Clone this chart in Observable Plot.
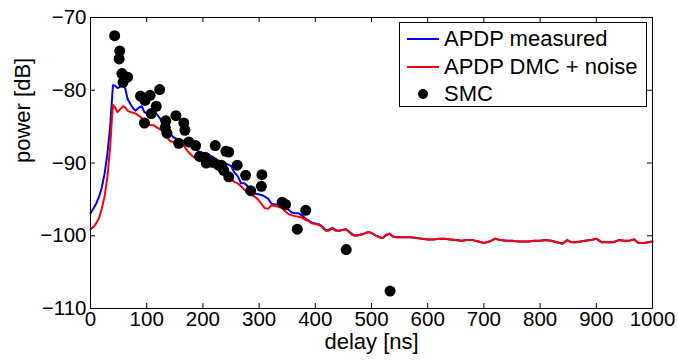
<!DOCTYPE html>
<html>
<head>
<meta charset="utf-8">
<script src="https://cdn.jsdelivr.net/npm/d3@7"></script>
<script src="https://cdn.jsdelivr.net/npm/@observablehq/plot@0.6"></script>
<style>
  body { margin: 0; background: #fff; }
  #wrap { position: relative; width: 678px; height: 361px; font-family: "Liberation Sans", Arial, Helvetica, sans-serif; }
  #legend { position: absolute; left: 399px; top: 22px; width: 248px; height: 85px; border: 1px solid #000; background: #fff; box-sizing: border-box; }
  .row { position: absolute; left: 7px; height: 26px; display: flex; align-items: center; font-size: 22px; color: #000; white-space: nowrap; }
  .row svg { margin-right: 5px; }
</style>
</head>
<body>
<div id="wrap"></div>
<script>
// delay axis [ns] shared by both APDP curves
const delay = [0,5,10,15,20,25,30,35,38,40,44,48,53,58,62,66,71,76,80,86,91,96,100,106,112,118,124,130,136,142,148,154,160,166,172,178,184,190,196,202,208,214,220,226,232,238,244,250,256,262,268,274,280,286,292,298,304,310,316,322,328,334,340,346,352,358,364,370,376,382,388,394,400,406,412,418,424,430,436,442,448,454,460,466,472,478,484,490,496,502,508,514,520,526,532,538,544,550,560,570,580,590,600,610,620,630,640,650,660,670,680,690,700,710,720,730,740,750,760,770,780,790,800,810,820,830,840,848,856,864,872,880,890,900,910,920,930,940,950,958,967,975,985,1000];
const apdpMeasured = [-96.9,-96.3,-95.6,-94.7,-93.4,-91.5,-88.8,-85.0,-81.5,-79.3,-79.4,-79.7,-79.5,-79.3,-79.8,-81.2,-81.9,-82.5,-82.8,-82.4,-82.2,-83.0,-83.2,-83.0,-82.8,-83.3,-83.9,-84.6,-85.3,-86.0,-86.5,-86.7,-86.8,-87.0,-87.2,-87.5,-88.0,-88.3,-88.5,-88.7,-88.9,-89.0,-89.3,-89.6,-89.8,-90.0,-90.2,-90.4,-91.3,-91.8,-92.8,-92.8,-93.2,-93.8,-94.2,-94.3,-94.4,-94.6,-94.9,-95.6,-95.7,-95.7,-96.0,-96.2,-96.4,-96.8,-96.9,-96.9,-97.2,-97.6,-97.9,-98.2,-98.3,-98.4,-98.7,-99.2,-99.2,-98.9,-99.2,-99.3,-99.2,-99.1,-99.4,-99.8,-100.0,-99.9,-99.8,-99.6,-99.5,-99.7,-100.0,-100.2,-100.3,-99.9,-99.7,-100.1,-100.2,-100.2,-100.2,-100.2,-100.3,-100.4,-100.5,-100.5,-100.4,-100.4,-100.5,-100.6,-100.7,-100.6,-100.6,-100.8,-101.0,-100.8,-100.4,-100.6,-100.7,-100.7,-100.8,-100.8,-100.8,-100.7,-100.7,-100.6,-100.7,-100.9,-101.1,-100.6,-100.9,-100.9,-100.8,-100.7,-100.6,-100.4,-100.9,-100.9,-100.9,-100.6,-100.7,-100.7,-100.5,-101.0,-101.0,-100.8];
const apdpDmc = [-99.1,-98.8,-98.3,-97.6,-96.3,-94.6,-92.0,-87.8,-84.0,-82.0,-82.4,-83.0,-82.6,-82.2,-82.4,-82.8,-83.0,-83.1,-83.2,-83.5,-83.8,-84.3,-84.6,-84.8,-84.8,-85.1,-85.4,-85.7,-86.5,-87.0,-87.1,-87.1,-87.1,-87.6,-88.3,-88.8,-89.2,-89.5,-89.7,-89.9,-90.1,-90.3,-90.6,-90.9,-91.2,-91.6,-91.9,-92.2,-92.6,-92.8,-93.2,-93.7,-94.0,-94.4,-94.6,-95.0,-95.6,-96.2,-96.3,-95.8,-95.9,-96.0,-96.2,-96.6,-97.0,-97.2,-97.3,-97.4,-97.5,-97.8,-98.0,-98.3,-98.4,-98.5,-98.8,-99.3,-99.3,-99.0,-99.3,-99.3,-99.2,-99.1,-99.5,-99.9,-100.0,-99.9,-99.8,-99.6,-99.5,-99.7,-100.0,-100.2,-100.3,-99.9,-99.7,-100.1,-100.2,-100.2,-100.2,-100.2,-100.3,-100.4,-100.5,-100.5,-100.4,-100.4,-100.5,-100.6,-100.7,-100.6,-100.6,-100.8,-101.0,-100.8,-100.4,-100.6,-100.7,-100.7,-100.8,-100.8,-100.8,-100.7,-100.7,-100.6,-100.7,-100.9,-101.1,-100.6,-100.9,-100.9,-100.8,-100.7,-100.6,-100.4,-100.9,-100.9,-100.9,-100.6,-100.7,-100.7,-100.5,-101.0,-101.0,-100.8];

// SMC paths: delay [ns] and power [dB]
const smcDelay = [43,52,51,56,66,58,89,97,106,123,117,108,96,152,134,166,133,168,136,157,175,187,222,241,246,194,204,206,217,228,233,261,237,246,276,305,304,285,341,347,383,368,455,533];
const smcPower = [-72.5,-74.6,-75.7,-77.7,-78.2,-78.9,-80.8,-81.4,-80.7,-79.9,-82.2,-83.2,-84.5,-83.5,-84.2,-84.5,-85.1,-85.5,-85.9,-87.3,-87.1,-87.6,-87.6,-88.4,-88.5,-89.1,-89.2,-90.0,-89.9,-90.3,-90.3,-90.3,-91.0,-91.9,-91.7,-91.6,-93.2,-93.8,-95.4,-95.7,-96.5,-99.1,-101.9,-107.6];

const xTicks = [0,100,200,300,400,500,600,700,800,900,1000];
const yTicks = [-110,-100,-90,-80,-70];

const seriesNames = ["APDP measured", "APDP DMC + noise", "SMC"];
const seriesColors = ["#0000ff", "#ff0000", "#000000"];

const W = 678, H = 361, mL = 90, mR = 26, mT = 17, mB = 53;
const plotW = W - mL - mR, plotH = H - mT - mB;
const tickLen = 5;
const fmt = d3.format("d");

const blue = delay.map((d, i) => ({delay: d, power: apdpMeasured[i]}));
const red = delay.map((d, i) => ({delay: d, power: apdpDmc[i]}));
const smc = smcDelay.map((d, i) => ({delay: d, power: smcPower[i]}));

const chart = Plot.plot({
  width: W, height: H,
  marginLeft: mL, marginRight: mR, marginTop: mT, marginBottom: mB,
  style: {fontFamily: '"Liberation Sans", Arial, Helvetica, sans-serif', color: "#000", background: "#fff"},
  x: {domain: [0, 1000]},
  y: {domain: [-110, -70]},
  marks: [
    Plot.line(blue, {x: "delay", y: "power", stroke: seriesColors[0], strokeWidth: 2}),
    Plot.line(red, {x: "delay", y: "power", stroke: seriesColors[1], strokeWidth: 2}),
    Plot.dot(smc, {x: "delay", y: "power", r: 5.5, fill: seriesColors[2], stroke: null}),
    // inward ticks on all four sides
    Plot.tickX(xTicks, {x: d => d, insetTop: plotH - tickLen, stroke: "#000"}),
    Plot.tickX(xTicks, {x: d => d, insetBottom: plotH - tickLen, stroke: "#000"}),
    Plot.tickY(yTicks, {y: d => d, insetRight: plotW - tickLen, stroke: "#000"}),
    Plot.tickY(yTicks, {y: d => d, insetLeft: plotW - tickLen, stroke: "#000"}),
    Plot.axisX(xTicks, {tickSize: 0, tickPadding: 3, fontSize: 20.5, label: null, tickFormat: fmt}),
    Plot.axisY(yTicks, {tickSize: 0, tickPadding: 4, fontSize: 20.5, label: null, tickFormat: fmt}),
    Plot.text(["delay [ns]"], {frameAnchor: "bottom", dy: 40, fontSize: 22}),
    Plot.text(["power [dB]"], {frameAnchor: "left", dx: -68, rotate: -90, fontSize: 22}),
    Plot.frame({stroke: "#000"})
  ]
});

const wrap = document.getElementById("wrap");
wrap.appendChild(chart);

const legend = document.createElement("div");
legend.id = "legend";
seriesNames.forEach((name, i) => {
  const row = document.createElement("div");
  row.className = "row";
  row.style.top = (3 + i * 27.5) + "px";
  const sw = i < 2
    ? `<svg width="32" height="10"><line x1="0" x2="32" y1="5" y2="5" stroke="${seriesColors[i]}" stroke-width="2"/></svg>`
    : `<svg width="32" height="12"><circle cx="16" cy="6" r="5" fill="${seriesColors[i]}"/></svg>`;
  row.innerHTML = sw + `<span>${name}</span>`;
  legend.appendChild(row);
});
wrap.appendChild(legend);
</script>
</body>
</html>
